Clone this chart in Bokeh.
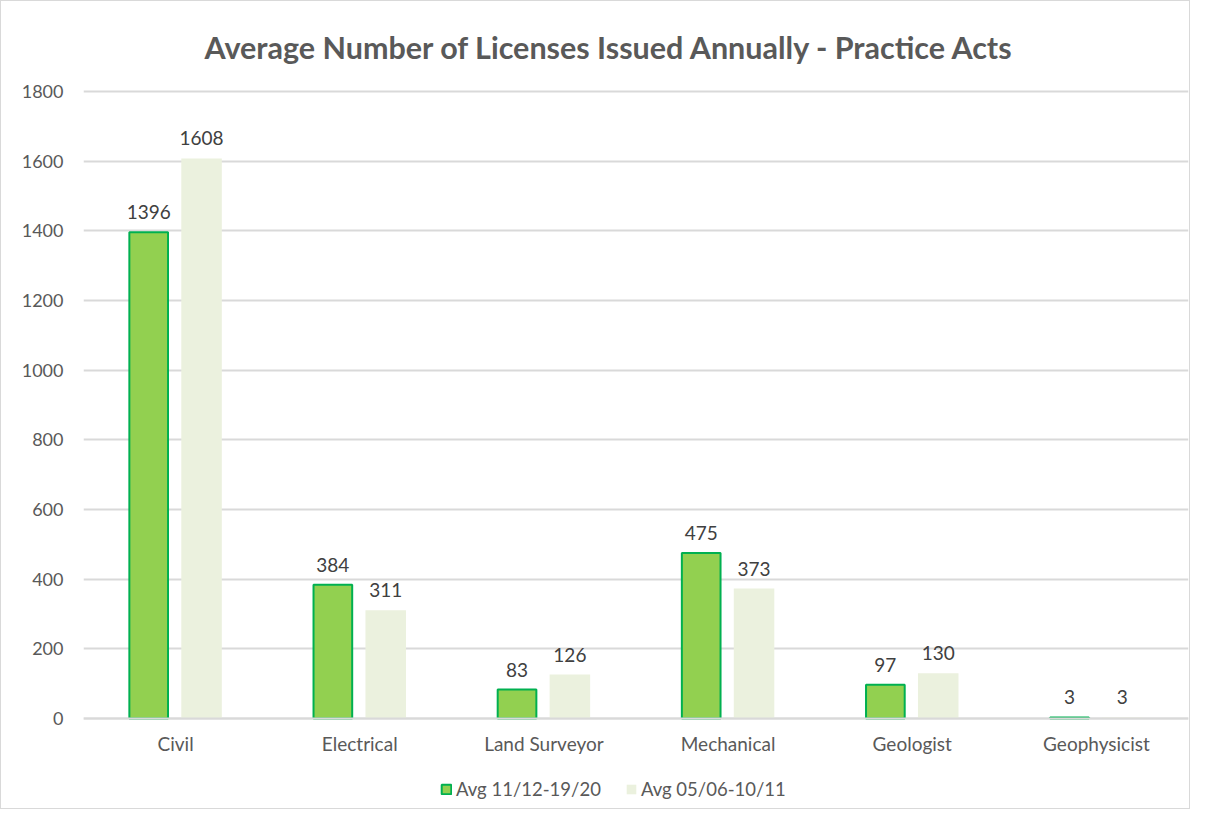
from bokeh.plotting import figure
from bokeh.models import ColumnDataSource, Legend, LegendItem, FactorRange, LabelSet, FixedTicker, Span
from bokeh.transform import dodge
from bokeh.core.properties import value
from bokeh.embed import file_html
from bokeh.resources import INLINE

categories = ["Civil", "Electrical", "Land Surveyor", "Mechanical", "Geologist", "Geophysicist"]
avg_recent = [1396, 384, 83, 475, 97, 3]
avg_old = [1608, 311, 126, 373, 130, 3]
series_names = ["Avg 11/12-19/20", "Avg 05/06-10/11"]
y_ticks = [0, 200, 400, 600, 800, 1000, 1200, 1400, 1600, 1800]

src = ColumnDataSource(dict(cat=categories, a=avg_recent, b=avg_old, zero=[0] * len(categories),
                            la=[str(v) for v in avg_recent], lb=[str(v) for v in avg_old]))

FONT = "Lato"
# frame extends slightly above the top tick and below zero (legend drawn inside the frame)
UNITS_PER_PX = 1800 / 627
Y_TOP = 1800 + 3 * UNITS_PER_PX
Y_MIN = -88 * UNITS_PER_PX
p = figure(x_range=FactorRange(*categories), y_range=(Y_MIN, Y_TOP),
           width=1190, height=809, output_backend="svg", toolbar_location=None,
           min_border_left=82, min_border_right=3, min_border_top=87, min_border_bottom=4)

p.title.text = "Average Number of Licenses Issued Annually - Practice  Acts"
p.title.align = "left"
p.title.offset = 121
p.title.text_font = FONT
p.title.text_font_size = "30.5px"
p.title.text_color = "#595959"
p.title.text_font_style = "bold"
p.title.standoff = 43
p.title.vertical_align = "top"

p.ygrid.ticker = FixedTicker(ticks=y_ticks)
p.ygrid.grid_line_color = "#d9d9d9"
p.ygrid.grid_line_width = 2
p.xgrid.grid_line_color = None
p.add_layout(Span(location=0, dimension="width", line_color="#d9d9d9", line_width=2))

r1 = p.vbar(x=dodge("cat", -0.146, range=p.x_range), top="a", width=0.21, source=src,
            fill_color="#92d050", line_color="#00b050", line_width=2)
r2 = p.vbar(x=dodge("cat", 0.141, range=p.x_range), top="b", width=0.22, source=src,
            fill_color="#ebf1de", line_color=None)

for col, lab, off in (("a", "la", -0.146), ("b", "lb", 0.141)):
    ls = LabelSet(x=dodge("cat", off, range=p.x_range), y=col, text=lab, source=src,
                  text_align="center", text_baseline="bottom", y_offset=13,
                  text_font=value(FONT), text_font_size=value("19px"), text_color=value("#404040"))
    p.add_layout(ls)

cat_labels = LabelSet(x="cat", y="zero", text="cat", source=src,
                      text_align="center", text_baseline="middle", y_offset=-25,
                      text_font=value(FONT), text_font_size=value("19px"), text_color=value("#595959"))
p.add_layout(cat_labels)

p.xaxis.visible = False
p.yaxis.ticker = FixedTicker(ticks=y_ticks)
p.yaxis.axis_line_color = None
p.yaxis.major_tick_line_color = None
p.yaxis.minor_tick_line_color = None
p.yaxis.major_label_text_font = FONT
p.yaxis.major_label_text_font_size = "18px"
p.yaxis.major_label_text_color = "#595959"
p.yaxis.major_label_standoff = 14

p.outline_line_color = None
p.x_range.range_padding = 0
p.x_range.group_padding = 0

legend = Legend(items=[LegendItem(label=series_names[0], renderers=[r1]),
                       LegendItem(label=series_names[1], renderers=[r2])],
                orientation="horizontal", location=(357, 6),
                label_text_font=FONT, label_text_font_size="18.5px", label_text_color="#595959",
                glyph_width=12, glyph_height=12, spacing=24, label_standoff=4,
                border_line_color=None, background_fill_alpha=0, padding=0, margin=0)
p.add_layout(legend, "center")

p.styles = {"border": "1px solid #d9d9d9"}

open("out.html", "w").write(file_html(p, INLINE))
